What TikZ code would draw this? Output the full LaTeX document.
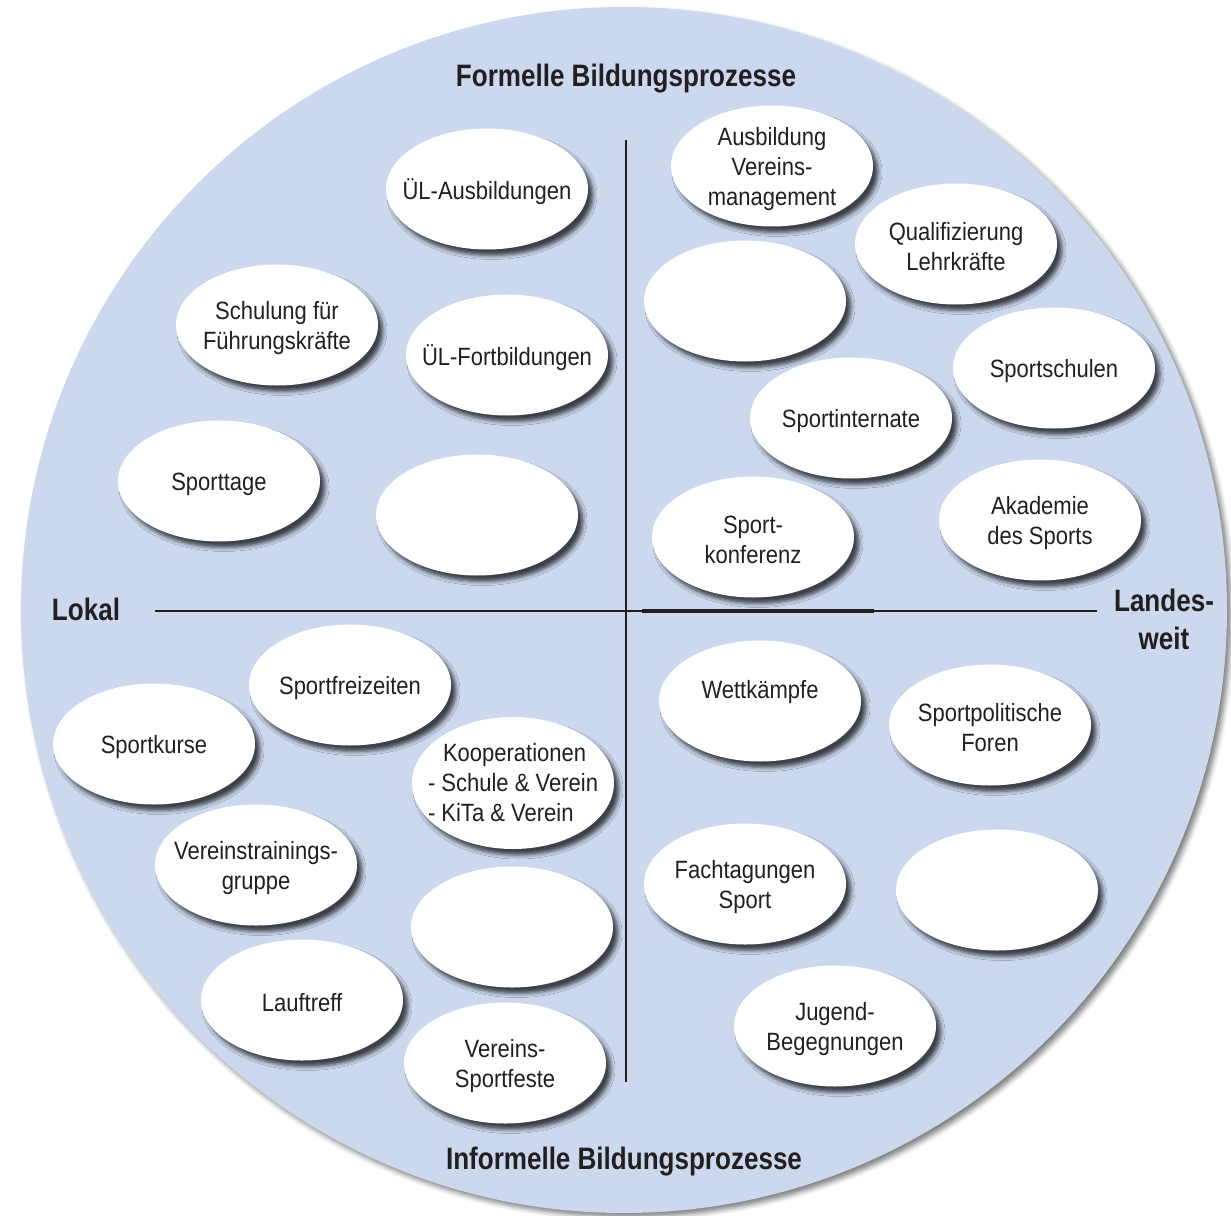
\documentclass[tikz,border=0pt]{standalone}
\usepackage{fontspec}
\setmainfont{Liberation Sans}[FakeStretch=0.88]
\newfontfamily\headfont{Liberation Sans}[FakeStretch=0.84]
\usetikzlibrary{shapes.geometric, shadows.blur}
\definecolor{discblue}{RGB}{203,216,238}
\definecolor{ink}{RGB}{35,31,32}
\tikzset{
x=1pt, y=-1pt, % one unit is one pixel of the grid, y runs downwards
disc/.style={circle, fill=discblue, minimum size=1206pt, inner sep=0pt,
  blur shadow={shadow xshift=4pt, shadow yshift=-4pt, shadow opacity=50, shadow blur radius=5pt}}, % the big background disc
bubble/.style={ellipse, fill=white, minimum width=202pt, minimum height=121pt, inner sep=0pt,
  blur shadow={shadow xshift=5pt, shadow yshift=-6pt, shadow opacity=70, shadow blur radius=4pt}}, % white bubbles
bubtext/.style={font=\fontsize{25}{30}\selectfont, text=ink, align=center, inner sep=0pt, yshift=-3pt}, % text inside a bubble
head/.style={font=\headfont\bfseries\fontsize{31}{38}\selectfont, text=ink, align=center, inner sep=0pt}, % axis titles
axis/.style={draw=ink, line width=2.2pt}, % the two axes
}

\begin{document}
\begin{tikzpicture}
    \useasboundingbox (0,0) rectangle (1231,1215);
    \node[disc] (disc) at (624,610) {};

    % axes
    \coordinate (vtop) at (626,140);
    \coordinate (vbot) at (626,1082);
    \coordinate (hleft) at (155,611);
    \coordinate (hright) at (1097,611);
    \coordinate (hbold1) at (642,611);
    \coordinate (hbold2) at (874,611);
    \draw[axis, line width=2.6pt] (vtop) -- (vbot);
    \draw[axis] (hleft) -- (hright);
    \draw[axis, line width=4pt] (hbold1) -- (hbold2);

    \node[head, anchor=base] (formell) at (626,86) {Formelle Bildungsprozesse};
    \node[head, anchor=base] (informell) at (624,1169) {Informelle Bildungsprozesse};
    \node[head, anchor=base] (lokal) at (86,620) {Lokal};
    \node[head] (landesweit) at (1164,619) {Landes-\\weit};

    % formal, local
    \node[bubble, label={[bubtext]center:ÜL-Ausbildungen}] (uelaus) at (487,189) {};
    \node[bubble, label={[bubtext]center:Schulung für\\Führungskräfte}] (schulung) at (277,325) {};
    \node[bubble, label={[bubtext]center:ÜL-Fortbildungen}] (uelfort) at (507,355) {};
    \node[bubble, label={[bubtext]center:Sporttage}] (sporttage) at (219,481) {};
    \node[bubble] (leerA) at (477,515) {};

    % formal, nationwide
    \node[bubble, label={[bubtext]center:Ausbildung\\Vereins-\\management}] (ausbvm) at (772,166) {};
    \node[bubble, label={[bubtext]center:Qualifizierung\\Lehrkräfte}] (qualif) at (956,244) {};
    \node[bubble] (leerB) at (745,301) {};
    \node[bubble, label={[bubtext]center:Sportschulen}] (sportsch) at (1054,368) {};
    \node[bubble, label={[bubtext]center:Sportinternate}] (internat) at (851,418) {};
    \node[bubble, label={[bubtext]center:Sport-\\konferenz}] (konferenz) at (753,537) {};
    \node[bubble, label={[bubtext]center:Akademie\\des Sports}] (akademie) at (1040,520) {};

    % informal, local
    \node[bubble, label={[bubtext]center:Sportfreizeiten}] (freizeiten) at (350,685) {};
    \node[bubble, label={[bubtext]center:Sportkurse}] (kurse) at (154,744) {};
    \node[bubble, minimum height=132pt,
      label={[bubtext, align=left, yshift=3pt]center:\hspace*{15pt}Kooperationen\\- Schule \& Verein\\- KiTa \& Verein}] (koop) at (513,783) {};
    \node[bubble, label={[bubtext]center:Vereinstrainings-\\gruppe}] (vtg) at (256,865) {};
    \node[bubble] (leerC) at (512,927) {};
    \node[bubble, label={[bubtext]center:Lauftreff}] (lauftreff) at (302,1000) {};
    \node[bubble, label={[bubtext]center:Vereins-\\Sportfeste}] (sportfeste) at (505,1063) {};

    % informal, nationwide
    \node[bubble, label={[bubtext, yshift=12pt]center:Wettkämpfe}] (wettk) at (760,701) {};
    \node[bubble, label={[bubtext]center:Sportpolitische\\Foren}] (foren) at (990,725) {};
    \node[bubble, label={[bubtext]center:Fachtagungen\\Sport}] (fachtag) at (745,884) {};
    \node[bubble] (leerD) at (997,890) {};
    \node[bubble, label={[bubtext]center:Jugend-\\Begegnungen}] (jugend) at (835,1026) {};
\end{tikzpicture}
\end{document}
